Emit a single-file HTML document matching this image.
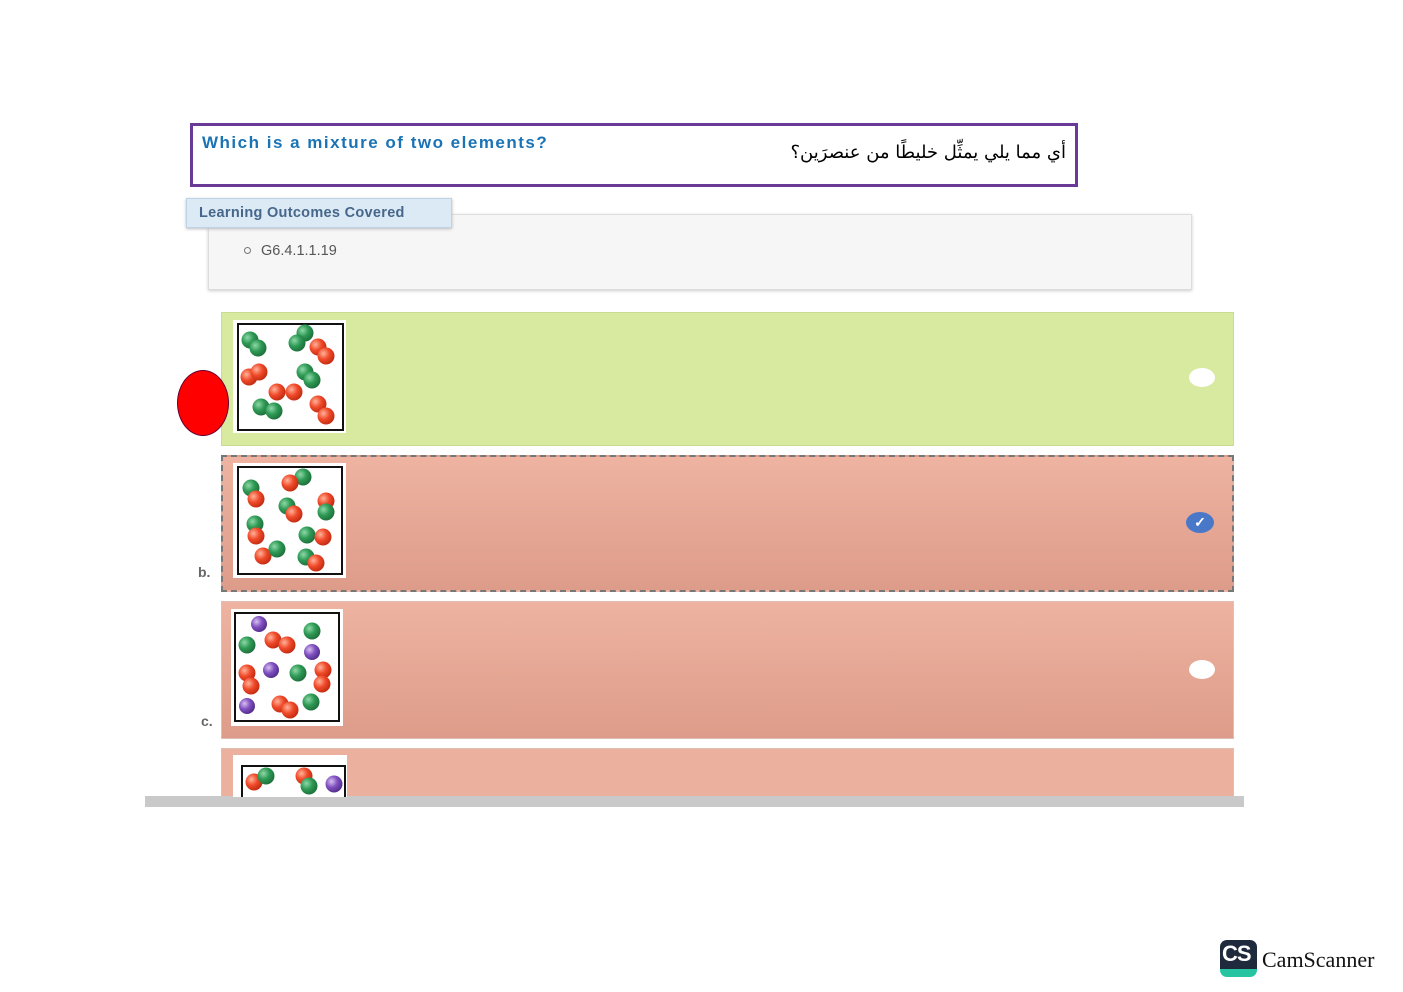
<!DOCTYPE html>
<html><head><meta charset="utf-8"><style>
body{margin:0;width:1403px;height:992px;background:#fff;position:relative;overflow:hidden;font-family:"Liberation Sans",sans-serif}
.a{position:absolute}
</style></head><body>
<div class="a" style="left:190px;top:123px;width:882px;height:58px;border:3px solid #6a3a98"></div>
<div class="a" style="left:202px;top:133px;color:#1a73b5;font-weight:bold;font-size:17px;letter-spacing:1.5px;white-space:nowrap">Which is a mixture of two elements?</div>
<div class="a" style="left:740px;top:142px;width:326px;text-align:right;font-size:18px;font-family:'DejaVu Sans',sans-serif;direction:rtl;white-space:nowrap">أي مما يلي يمثِّل خليطًا من عنصرَين؟</div>
<div class="a" style="left:208px;top:214px;width:982px;height:74px;background:#f6f6f6;border:1px solid #ddd;box-shadow:0 1px 3px #ccc"></div>
<div class="a" style="left:186px;top:198px;width:264px;height:28px;background:#dceaf6;border:1px solid #bcd3e8;box-shadow:0 1px 3px #bbb"></div>
<div class="a" style="left:199px;top:205px;color:#46678a;font-weight:bold;font-size:14.5px;letter-spacing:0.3px">Learning Outcomes Covered</div>
<div class="a" style="left:244px;top:247px;width:5px;height:5px;border:1px solid #777;border-radius:50%"></div>
<div class="a" style="left:261px;top:243px;color:#555;font-size:14.5px">G6.4.1.1.19</div>

<div class="a" style="left:221px;top:312px;width:1011px;height:132px;background:#d8e9a0;border:1px solid #c8dc94"></div>
<div class="a" style="left:221px;top:455px;width:1009px;height:133px;background:linear-gradient(#eeb3a1,#dd9c89);border:2px dashed #777"></div>
<div class="a" style="left:221px;top:601px;width:1011px;height:136px;background:linear-gradient(#eeb3a1,#dd9c89);border:1px solid #e0bfb3"></div>
<div class="a" style="left:221px;top:748px;width:1011px;height:50px;background:#ecb09e;border:1px solid #e0bfb3"></div>
<div class="a" style="left:145px;top:796px;width:1099px;height:11px;background:#c9c9c9"></div>

<div class="a" style="left:177px;top:370px;width:50px;height:64px;background:#f00;border:1px solid #603;border-radius:50%"></div>
<div class="a" style="left:198px;top:564px;color:#666;font-weight:bold;font-size:14px">b.</div>
<div class="a" style="left:201px;top:713px;color:#666;font-weight:bold;font-size:14px">c.</div>

<div class="a" style="left:1189px;top:368px;width:26px;height:19px;background:#fff;border-radius:50%"></div>
<div class="a" style="left:1189px;top:660px;width:26px;height:19px;background:#fff;border-radius:50%"></div>
<div class="a" style="left:1186px;top:512px;width:28px;height:21px;background:#4a78c8;border-radius:50%;color:#fff;text-align:center;font-size:14px;line-height:21px;font-weight:bold">✓</div>

<svg class="a" style="left:0;top:0" width="1403" height="992">
<defs>
<radialGradient id="g" cx="0.35" cy="0.35" r="0.7"><stop offset="0" stop-color="#8fd8a8"/><stop offset="0.5" stop-color="#2e9a55"/><stop offset="1" stop-color="#1e6e3a"/></radialGradient>
<radialGradient id="r" cx="0.35" cy="0.35" r="0.7"><stop offset="0" stop-color="#ffb39a"/><stop offset="0.5" stop-color="#f04a2a"/><stop offset="1" stop-color="#c02a10"/></radialGradient>
<radialGradient id="p" cx="0.35" cy="0.35" r="0.7"><stop offset="0" stop-color="#d8c0f0"/><stop offset="0.5" stop-color="#8050c0"/><stop offset="1" stop-color="#502c88"/></radialGradient>
</defs>
<rect x="233" y="320" width="113" height="113" fill="#fff"/><rect x="238" y="324" width="105" height="106" fill="none" stroke="#111" stroke-width="2"/>
<rect x="233" y="463" width="113" height="115" fill="#fff"/><rect x="238" y="467" width="104" height="107" fill="none" stroke="#111" stroke-width="2"/>
<rect x="231" y="609" width="112" height="117" fill="#fff"/><rect x="235" y="613" width="104" height="108" fill="none" stroke="#111" stroke-width="2"/>
<rect x="233" y="755" width="114" height="42" fill="#fff"/><path d="M242 797V766H345V797" fill="none" stroke="#111" stroke-width="2"/>
<g>
<circle cx="250" cy="340" r="8.5" fill="url(#g)"/><circle cx="258" cy="348" r="8.5" fill="url(#g)"/>
<circle cx="305" cy="333" r="8.5" fill="url(#g)"/><circle cx="297" cy="343" r="8.5" fill="url(#g)"/>
<circle cx="318" cy="347" r="8.5" fill="url(#r)"/><circle cx="326" cy="356" r="8.5" fill="url(#r)"/>
<circle cx="249" cy="377" r="8.5" fill="url(#r)"/><circle cx="259" cy="372" r="8.5" fill="url(#r)"/>
<circle cx="305" cy="372" r="8.5" fill="url(#g)"/><circle cx="312" cy="380" r="8.5" fill="url(#g)"/>
<circle cx="277" cy="392" r="8.5" fill="url(#r)"/><circle cx="294" cy="392" r="8.5" fill="url(#r)"/>
<circle cx="261" cy="407" r="8.5" fill="url(#g)"/><circle cx="274" cy="411" r="8.5" fill="url(#g)"/>
<circle cx="318" cy="404" r="8.5" fill="url(#r)"/><circle cx="326" cy="416" r="8.5" fill="url(#r)"/>

<circle cx="251" cy="488" r="8.5" fill="url(#g)"/><circle cx="256" cy="499" r="8.5" fill="url(#r)"/>
<circle cx="303" cy="477" r="8.5" fill="url(#g)"/><circle cx="290" cy="483" r="8.5" fill="url(#r)"/>
<circle cx="287" cy="506" r="8.5" fill="url(#g)"/><circle cx="294" cy="514" r="8.5" fill="url(#r)"/>
<circle cx="326" cy="501" r="8.5" fill="url(#r)"/><circle cx="326" cy="512" r="8.5" fill="url(#g)"/>
<circle cx="255" cy="524" r="8.5" fill="url(#g)"/><circle cx="256" cy="536" r="8.5" fill="url(#r)"/>
<circle cx="307" cy="535" r="8.5" fill="url(#g)"/><circle cx="323" cy="537" r="8.5" fill="url(#r)"/>
<circle cx="263" cy="556" r="8.5" fill="url(#r)"/><circle cx="277" cy="549" r="8.5" fill="url(#g)"/>
<circle cx="306" cy="557" r="8.5" fill="url(#g)"/><circle cx="316" cy="563" r="8.5" fill="url(#r)"/>

<circle cx="259" cy="624" r="8" fill="url(#p)"/><circle cx="273" cy="640" r="8.5" fill="url(#r)"/><circle cx="287" cy="645" r="8.5" fill="url(#r)"/>
<circle cx="312" cy="631" r="8.5" fill="url(#g)"/><circle cx="247" cy="645" r="8.5" fill="url(#g)"/><circle cx="312" cy="652" r="8" fill="url(#p)"/>
<circle cx="247" cy="673" r="8.5" fill="url(#r)"/><circle cx="251" cy="686" r="8.5" fill="url(#r)"/><circle cx="271" cy="670" r="8" fill="url(#p)"/>
<circle cx="298" cy="673" r="8.5" fill="url(#g)"/><circle cx="323" cy="670" r="8.5" fill="url(#r)"/><circle cx="322" cy="684" r="8.5" fill="url(#r)"/>
<circle cx="247" cy="706" r="8" fill="url(#p)"/><circle cx="280" cy="704" r="8.5" fill="url(#r)"/><circle cx="290" cy="710" r="8.5" fill="url(#r)"/><circle cx="311" cy="702" r="8.5" fill="url(#g)"/>

<circle cx="254" cy="782" r="8.5" fill="url(#r)"/><circle cx="266" cy="776" r="8.5" fill="url(#g)"/>
<circle cx="304" cy="776" r="8.5" fill="url(#r)"/><circle cx="309" cy="786" r="8.5" fill="url(#g)"/><circle cx="334" cy="784" r="8.5" fill="url(#p)"/>
</g>
</svg>

<div class="a" style="left:1220px;top:940px;width:37px;height:37px;border-radius:7px;background:linear-gradient(#1f2b3d 78%,#26c4a0 78%);overflow:hidden"></div>
<div class="a" style="left:1222px;top:941px;color:#fff;font-weight:bold;font-size:22px;letter-spacing:-1px">CS</div>
<div class="a" style="left:1262px;top:947px;font-family:'Liberation Serif',serif;font-size:22px;color:#111">CamScanner</div>
</body></html>
